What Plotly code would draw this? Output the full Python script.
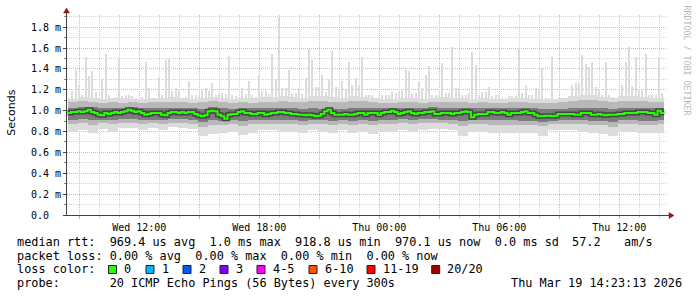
import numpy as np
import pandas as pd
import plotly.graph_objects as go

# ---------------- data (milliseconds) ----------------
step_start = "2026-03-18 08:25"          # first 10-minute step
step_minutes = 10

median_ms = [
    0.978,0.987,0.987,0.994,0.987,0.994,1.010,0.987,0.978,0.962,
    0.955,0.978,0.968,0.978,0.987,0.978,0.987,0.994,1.010,1.000,
    0.987,0.994,0.978,0.962,0.968,0.978,0.978,0.978,0.962,0.955,
    0.978,0.987,0.987,0.978,0.987,0.978,0.987,0.987,0.968,0.955,
    0.946,0.955,0.994,1.000,
    0.994,0.962,0.946,0.923,0.962,0.968,0.968,0.987,0.994,0.978,
    0.978,0.968,0.968,0.978,0.978,0.962,0.968,0.978,0.978,0.987,
    0.987,0.978,0.978,0.968,0.968,0.962,0.962,0.955,0.962,0.955,
    0.946,0.952,0.968,0.994,1.010,0.978,0.962,0.962,0.962,0.968,
    0.962,0.962,0.968,0.978,0.978,
    0.962,0.978,0.978,0.978,0.962,0.978,0.987,0.987,1.000,0.987,
    0.968,0.978,0.987,0.994,0.978,0.968,0.978,0.978,0.987,0.987,
    0.994,0.968,0.968,0.978,0.978,0.978,0.968,0.978,0.978,0.987,
    0.994,0.987,0.936,0.962,0.968,0.968,0.968,0.987,0.987,0.978,
    0.978,0.987,0.978,0.962,0.978,
    0.978,0.978,0.987,0.994,0.978,0.978,0.962,0.946,0.946,0.952,
    0.952,0.946,0.952,0.968,0.968,0.968,0.968,0.968,0.962,0.962,
    0.978,0.978,0.978,0.962,0.962,0.968,0.962,0.955,0.962,0.962,
    0.962,0.968,0.968,0.978,0.978,0.978,0.978,0.987,0.987,0.987,
    0.978,0.978,0.962,1.000,0.978,
]

max_ms = [
    1.12,1.19,1.39,1.25,1.15,1.51,1.33,1.38,1.18,1.12,
    1.30,1.54,1.15,1.12,1.13,1.49,1.14,1.15,1.15,1.14,
    1.12,1.11,1.13,1.47,1.22,1.12,1.12,1.31,1.15,1.49,
    1.50,1.19,1.22,1.20,1.12,1.13,1.28,1.15,1.15,1.14,
    1.20,1.22,1.19,1.27,
    1.15,1.17,1.17,1.16,1.52,1.15,1.14,1.13,1.22,1.16,
    1.28,1.15,1.13,1.34,1.19,1.19,1.16,1.54,1.30,1.90,
    1.22,1.22,1.39,1.17,1.17,1.22,1.16,1.31,1.59,1.49,
    1.23,1.23,1.34,1.18,1.30,1.57,1.23,1.20,1.28,1.20,
    1.47,1.25,1.31,1.25,1.51,
    1.15,1.15,1.15,1.12,1.12,1.15,1.15,1.15,1.18,1.17,
    1.19,1.20,1.39,1.38,1.17,1.17,1.28,1.22,1.34,1.43,
    1.15,1.15,1.15,1.46,1.17,1.17,1.61,1.22,1.22,1.15,
    1.15,1.17,1.56,1.44,1.15,1.18,1.18,1.23,1.14,1.15,
    1.15,1.12,1.12,1.14,1.14,
    1.14,1.60,1.17,1.25,1.15,1.15,1.22,1.20,1.41,1.12,
    1.12,1.51,1.11,1.10,1.12,1.12,1.12,1.25,1.27,1.27,
    1.53,1.45,1.42,1.47,1.23,1.21,1.15,1.47,1.15,1.13,
    1.12,1.12,1.25,1.47,1.61,1.24,1.51,1.20,1.20,1.54,
    1.15,1.15,1.15,1.51,1.17,
]

# half-hour smoke band edges
top_ms = [
    1.11,1.13,1.12,1.11,1.12,1.12,1.11,1.11,1.12,1.12,1.13,1.12,1.11,1.12,1.13,
    1.12,1.11,1.12,1.12,1.13,1.13,1.14,1.13,1.12,1.14,1.14,1.13,1.12,1.14,1.13,
    1.12,1.11,1.11,1.12,1.12,1.11,1.12,1.13,1.12,1.12,1.11,1.12,1.11,1.11,1.12,
    1.12,1.11,1.11,1.11,1.12,1.14,1.15,1.15,1.13,1.12,1.14,1.14,1.13,1.12,1.12,
]
min_ms = [
    0.80,0.81,0.79,0.82,0.80,0.83,0.83,0.81,0.83,0.81,0.84,0.83,0.82,0.76,0.78,
    0.79,0.80,0.77,0.79,0.81,0.81,0.80,0.80,0.79,0.81,0.80,0.79,0.81,0.79,0.80,
    0.78,0.80,0.80,0.81,0.80,0.81,0.82,0.82,0.81,0.76,0.80,0.80,0.79,0.79,0.79,
    0.79,0.79,0.76,0.81,0.81,0.81,0.80,0.79,0.78,0.76,0.80,0.80,0.79,0.79,0.79,
]
lo2_ms = [
    0.87,0.88,0.86,0.88,0.87,0.88,0.88,0.87,0.88,0.87,0.88,0.88,0.87,0.84,0.86,
    0.86,0.87,0.85,0.87,0.87,0.87,0.87,0.87,0.86,0.87,0.87,0.86,0.87,0.86,0.87,
    0.86,0.87,0.87,0.88,0.87,0.88,0.88,0.88,0.87,0.85,0.87,0.87,0.86,0.86,0.86,
    0.86,0.86,0.85,0.87,0.87,0.87,0.87,0.86,0.86,0.84,0.87,0.87,0.86,0.86,0.87,
]
hi2_ms = [
    1.08,1.09,1.08,1.07,1.08,1.07,1.08,1.07,1.08,1.08,1.08,1.08,1.07,1.08,1.09,
    1.08,1.07,1.08,1.07,1.08,1.08,1.09,1.08,1.08,1.09,1.09,1.08,1.08,1.09,1.09,
    1.08,1.07,1.07,1.08,1.08,1.07,1.08,1.08,1.08,1.08,1.07,1.08,1.07,1.07,1.08,
    1.08,1.07,1.07,1.07,1.08,1.09,1.10,1.10,1.09,1.08,1.09,1.09,1.09,1.08,1.08,
]
lo3_ms = [
    0.91,0.92,0.91,0.91,0.91,0.92,0.92,0.91,0.91,0.91,0.92,0.92,0.91,0.89,0.91,
    0.90,0.91,0.90,0.91,0.91,0.91,0.91,0.91,0.90,0.91,0.91,0.90,0.91,0.90,0.91,
    0.90,0.91,0.91,0.92,0.91,0.92,0.92,0.91,0.91,0.90,0.91,0.91,0.91,0.91,0.91,
    0.90,0.90,0.89,0.90,0.91,0.91,0.91,0.90,0.90,0.89,0.91,0.91,0.90,0.90,0.91,
]
hi3_ms = [
    1.03,1.04,1.04,1.03,1.03,1.03,1.04,1.03,1.03,1.03,1.03,1.03,1.03,1.02,1.04,
    1.03,1.02,1.03,1.03,1.03,1.03,1.03,1.03,1.02,1.03,1.02,1.02,1.02,1.03,1.03,
    1.03,1.03,1.03,1.03,1.03,1.03,1.04,1.03,1.03,1.03,1.03,1.03,1.03,1.03,1.03,
    1.03,1.03,1.02,1.02,1.02,1.03,1.03,1.03,1.03,1.02,1.03,1.03,1.03,1.03,1.03,
]

y_tick_vals = [0.0, 0.2, 0.4, 0.6, 0.8, 1.0, 1.2, 1.4, 1.6, 1.8]
y_tick_text = ["0.0\u00a0\u00a0", "0.2 m", "0.4 m", "0.6 m", "0.8 m", "1.0 m",
               "1.2 m", "1.4 m", "1.6 m", "1.8 m"]

loss_labels = ["0", "1", "2", "3", "4-5", "6-10", "11-19", "20/20"]
loss_colors = ["#26ff00", "#00b8ff", "#0059ff", "#7e00ff", "#ff00ff",
               "#ff5500", "#ff0000", "#a10000"]

legend_rtt = "median rtt:  969.4 us avg  1.0 ms max  918.8 us min  970.1 us now  0.0 ms sd"
legend_sd = "57.2"
legend_unit = "am/s"
legend_loss = "packet loss: 0.00 % avg  0.00 % max  0.00 % min  0.00 % now"
legend_probe = "probe:       20 ICMP Echo Pings (56 Bytes) every 300s"
stamp = "Thu Mar 19 14:23:13 2026"

x_start = "2026-03-18 08:23:13"
x_end = "2026-03-19 14:23:13"

# ---------------- build ----------------
n = len(median_ms)
starts = pd.date_range(step_start, periods=n, freq=f"{step_minutes}min")
centers = starts + pd.Timedelta(minutes=step_minutes / 2)
width_ms = step_minutes * 60 * 1000

def rep(a):
    return np.repeat(np.array(a), 3)[:n]

mx = np.array(max_ms)
tp = rep(top_ms)
mn = rep(min_ms)
l2, h2 = rep(lo2_ms), rep(hi2_ms)
l3, h3 = rep(lo3_ms), rep(hi3_ms)

fig = go.Figure()
# thin light-grey spikes up to the maximum ping
fig.add_trace(go.Bar(x=centers, y=np.clip(mx - tp, 0, None), base=tp, width=width_ms * 0.5,
                     marker=dict(color="#dcdcdc", line=dict(width=0)), hoverinfo="skip"))
for lo, hi, col in [(mn, tp, "#dcdcdc"), (l2, h2, "#b8b8b8"), (l3, h3, "#7c7c7c")]:
    fig.add_trace(go.Bar(x=centers, y=hi - lo, base=lo, width=width_ms,
                         marker=dict(color=col, line=dict(width=0)),
                         hoverinfo="skip"))

line_x = list(starts) + [starts[-1] + pd.Timedelta(minutes=step_minutes)]
line_y = list(median_ms) + [median_ms[-1]]
fig.add_trace(go.Scatter(x=line_x, y=line_y, mode="lines",
                         line=dict(color="#464646", width=5, shape="hv"),
                         hoverinfo="skip"))
fig.add_trace(go.Scatter(x=line_x, y=line_y, mode="lines",
                         line=dict(color=loss_colors[0], width=2, shape="hv"),
                         hoverinfo="skip"))

major_ticks = pd.date_range("2026-03-18 09:00", "2026-03-19 12:00", freq="3h")
major_text = [t.strftime("%a %H:%M") if t.hour % 6 == 0 else "" for t in major_ticks]

MONO = "DejaVu Sans Mono"
RED_GRID = "#f2a8a8"
GRAY_GRID = "#d2d2d2"

L, R, T, B = 67, 30, 15, 82
W, H = 697, 297
PW, PH = W - L - R, H - T - B

def px(x):
    return (x - L) / PW

def py(y):
    return (T + PH - y) / PH

fig.update_layout(
    width=W, height=H, margin=dict(l=L, r=R, t=T, b=B),
    paper_bgcolor="white", plot_bgcolor="white", showlegend=False,
    barmode="overlay", bargap=0, bargroupgap=0,
    xaxis=dict(type="date", range=[x_start, x_end], tickmode="array",
               tickvals=major_ticks, ticktext=major_text,
               showgrid=True, gridcolor=RED_GRID, griddash="1px,1px", gridwidth=1,
               ticks="outside", ticklen=3, tickcolor="#e8a0a0",
               tickfont=dict(family=MONO, size=10, color="black"),
               showline=True, linecolor="#404040", linewidth=1, zeroline=False,
               minor=dict(dtick=3600000, tick0="2026-03-18 00:00:00", showgrid=True,
                          gridcolor=GRAY_GRID, griddash="1px,1px", ticks="outside",
                          ticklen=2, tickcolor="#c8c8c8"),
               fixedrange=True),
    yaxis=dict(range=[0, 1.917], tickmode="array", tickvals=y_tick_vals,
               ticktext=y_tick_text, showgrid=True, gridcolor=RED_GRID,
               griddash="1px,1px", gridwidth=1, ticks="outside", ticklen=3,
               tickcolor="#404040", tickfont=dict(family=MONO, size=10, color="black"),
               showline=True, linecolor="#404040", linewidth=1, zeroline=False,
               minor=dict(dtick=0.1, tick0=0, showgrid=True, gridcolor=GRAY_GRID,
                          griddash="1px,1px", ticks="outside", ticklen=2,
                          tickcolor="#808080"),
               fixedrange=True),
)

shapes = []
ARROW = "#8b1a1a"
# axis extensions and arrows
shapes.append(dict(type="line", xref="paper", yref="paper", x0=px(66.5), x1=px(66.5),
                   y0=py(15), y1=py(11), line=dict(color="#404040", width=1)))
shapes.append(dict(type="path", xref="paper", yref="paper",
                   path=f"M {px(66.5)} {py(8)} L {px(63.5)} {py(13)} L {px(69.5)} {py(13)} Z",
                   fillcolor=ARROW, line=dict(color=ARROW, width=0.5)))
shapes.append(dict(type="line", xref="paper", yref="paper", x0=px(667), x1=px(671),
                   y0=py(215.5), y1=py(215.5), line=dict(color="#404040", width=1)))
shapes.append(dict(type="path", xref="paper", yref="paper",
                   path=f"M {px(674)} {py(215.5)} L {px(669)} {py(212.5)} L {px(669)} {py(218.5)} Z",
                   fillcolor=ARROW, line=dict(color=ARROW, width=0.5)))

FS = 11.85
annotations = []
def ann(text, x, y, **kw):
    d = dict(text=text.replace(" ", "\u00a0"), xref="paper", yref="paper",
             x=px(x), y=py(y), showarrow=False, xanchor="left", yanchor="middle",
             font=dict(family=MONO, size=FS, color="black"), borderpad=0)
    d.update(kw)
    annotations.append(d)

ann(legend_rtt, 15.5, 241.7)
ann(legend_sd, 570.5, 241.7)
ann(legend_unit, 622.5, 241.7)
ann(legend_loss, 15.5, 255.7)
ann("loss color:", 15.5, 269.3)
ann(legend_probe, 15.5, 283.3)
ann(stamp, 683, 283.3, xanchor="right")

sq_left = [108.5, 146, 183, 220, 257, 309, 367, 431.7]
for i, (lab, col) in enumerate(zip(loss_labels, loss_colors)):
    x0 = sq_left[i]
    shapes.append(dict(type="rect", xref="paper", yref="paper",
                       x0=px(x0), x1=px(x0 + 8), y0=py(265.5), y1=py(273.5),
                       fillcolor=col, line=dict(color="#202020", width=1)))
    ann(lab, x0 + 14.5, 269.3)

annotations.append(dict(text="Seconds", xref="paper", yref="paper", x=px(10.8), y=py(113),
                        showarrow=False, textangle=-90, xanchor="center", yanchor="middle",
                        font=dict(family="DejaVu Sans", size=11, color="black")))
annotations.append(dict(text="RRDTOOL / TOBI OETIKER".replace(" ", "\u00a0"), xref="paper",
                        yref="paper", x=px(686.5), y=py(60), showarrow=False, textangle=90,
                        xanchor="center", yanchor="middle",
                        font=dict(family=MONO, size=8.3, color="#b8b8b8")))

fig.update_layout(shapes=shapes, annotations=annotations)
fig.write_html("out.html")
